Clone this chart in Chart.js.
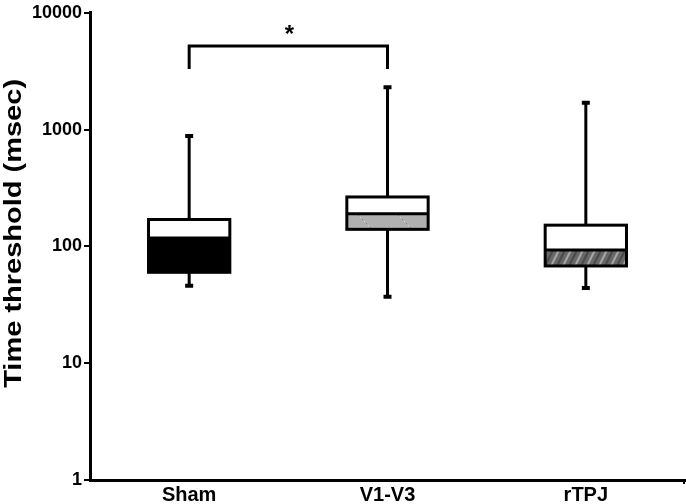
<!DOCTYPE html>
<html><head><meta charset="utf-8">
<script src="https://cdn.jsdelivr.net/npm/chart.js@4"></script>
<style>html,body{margin:0;padding:0;background:#fff}#wrap{width:686px;height:504px}</style>
</head><body><div id="wrap"><canvas id="c"></canvas></div>
<script>
const categories = ['Sham', 'V1-V3', 'rTPJ'];
const whiskerMin = [46, 37, 44];
const q1 = [60, 140, 68];
const median = [118, 190, 93];
const q3 = [170, 265, 152];
const whiskerMax = [880, 2300, 1700];
const yTicks = [1, 10, 100, 1000, 10000];
const yTitle = 'Time threshold (msec)';
const bracketFrom = 0, bracketTo = 1;
const bracketTop = 5200, bracketLegBottom = 3300;
const bracketLabel = '*';
const FONT = '"Liberation Sans", Arial, sans-serif';

function makeStipple() {
  const c = document.createElement('canvas'); c.width = 40; c.height = 40;
  const g = c.getContext('2d');
  g.fillStyle = '#b0b0b0'; g.fillRect(0, 0, 40, 40);
  let s = 7;
  for (let i = 0; i < 600; i++) {
    s = (s * 9301 + 49297) % 233280;
    const x = s % 40; s = (s * 9301 + 49297) % 233280;
    const y = s % 40;
    g.fillStyle = (i % 2) ? '#858585' : '#d6d6d6';
    g.fillRect(x, y, 1, 1);
  }
  return g.createPattern(c, 'repeat');
}
function makeHatch() {
  const c = document.createElement('canvas'); c.width = 24; c.height = 24;
  const g = c.getContext('2d');
  g.fillStyle = '#686868'; g.fillRect(0, 0, 24, 24);
  g.strokeStyle = '#a8a8a8'; g.lineWidth = 2;
  for (let k = -24; k <= 48; k += 12) {
    g.beginPath(); g.moveTo(k, 24); g.lineTo(k + 12, 0); g.stroke();
  }
  g.strokeStyle = '#4a4a4a'; g.lineWidth = 2;
  for (let k = -18; k <= 48; k += 12) {
    g.beginPath(); g.moveTo(k, 24); g.lineTo(k + 12, 0); g.stroke();
  }
  return g.createPattern(c, 'repeat');
}

const boxPlugin = {
  id: 'boxparts',
  beforeDatasetsDraw(chart) {
    const ctx = chart.ctx, x = chart.scales.x, y = chart.scales.y;
    ctx.save();
    ctx.strokeStyle = '#000'; ctx.lineWidth = 3; ctx.lineCap = 'butt';
    categories.forEach((c, i) => {
      const cx = x.getPixelForValue(i);
      const yMax = y.getPixelForValue(whiskerMax[i]), yMin = y.getPixelForValue(whiskerMin[i]);
      ctx.beginPath();
      ctx.moveTo(cx, y.getPixelForValue(q3[i])); ctx.lineTo(cx, yMax);
      ctx.moveTo(cx, y.getPixelForValue(q1[i])); ctx.lineTo(cx, yMin);
      ctx.stroke();
      ctx.lineWidth = 4;
      ctx.beginPath();
      ctx.moveTo(cx - 4, yMax); ctx.lineTo(cx + 4, yMax);
      ctx.moveTo(cx - 4, yMin); ctx.lineTo(cx + 4, yMin);
      ctx.stroke();
      ctx.lineWidth = 3;
    });
    ctx.restore();
  },
  afterDatasetsDraw(chart) {
    const ctx = chart.ctx, x = chart.scales.x, y = chart.scales.y;
    const meta = chart.getDatasetMeta(0);
    ctx.save();
    ctx.strokeStyle = '#000'; ctx.lineWidth = 3;
    meta.data.forEach((bar, i) => {
      const left = bar.x - bar.width / 2, w = bar.width;
      const yt = y.getPixelForValue(q3[i]), yb = y.getPixelForValue(q1[i]), ym = y.getPixelForValue(median[i]);
      ctx.strokeRect(left, yt, w, yb - yt);
      ctx.beginPath(); ctx.moveTo(left, ym); ctx.lineTo(left + w, ym); ctx.stroke();
    });
    // significance bracket
    const x1 = x.getPixelForValue(bracketFrom), x2 = x.getPixelForValue(bracketTo);
    const bt = y.getPixelForValue(bracketTop), bb = y.getPixelForValue(bracketLegBottom);
    ctx.beginPath();
    ctx.moveTo(x1, bb); ctx.lineTo(x1, bt); ctx.lineTo(x2, bt); ctx.lineTo(x2, bb);
    ctx.stroke();
    ctx.fillStyle = '#000';
    ctx.font = 'bold 24px ' + FONT;
    ctx.textAlign = 'center'; ctx.textBaseline = 'middle';
    ctx.fillText(bracketLabel, (x1 + x2) / 2 + 1, bt - 11);
    // y-axis title
    ctx.save();
    ctx.translate(14, (chart.chartArea.top + chart.chartArea.bottom) / 2 - 13);
    ctx.rotate(-Math.PI / 2);
    ctx.scale(1, 0.84);
    ctx.font = 'bold 29px ' + FONT;
    ctx.textAlign = 'center'; ctx.textBaseline = 'middle';
    ctx.fillText(yTitle, 0, 0);
    ctx.restore();
    // small end tick at right of x axis
    ctx.lineWidth = 2;
    ctx.beginPath(); ctx.moveTo(chart.chartArea.right - 1, chart.chartArea.bottom); ctx.lineTo(chart.chartArea.right - 1, chart.chartArea.bottom + 4); ctx.stroke();
    ctx.restore();
  }
};

const lowerFills = ['#000000', makeStipple(), makeHatch()];

new Chart(document.getElementById('c'), {
  type: 'bar',
  data: {
    labels: categories,
    datasets: [
      { label: 'Q1–median', data: categories.map((c, i) => [q1[i], median[i]]), backgroundColor: lowerFills,
        borderWidth: 0, grouped: false, barPercentage: 0.41, categoryPercentage: 1 },
      { label: 'median–Q3', data: categories.map((c, i) => [median[i], q3[i]]), backgroundColor: '#ffffff',
        borderWidth: 0, grouped: false, barPercentage: 0.41, categoryPercentage: 1 }
    ]
  },
  options: {
    responsive: true, maintainAspectRatio: false, animation: false,
    layout: { padding: { top: 6, right: 1, left: 0, bottom: 0 } },
    plugins: { legend: { display: false }, tooltip: { enabled: false } },
    scales: {
      x: {
        grid: { display: false, drawTicks: false },
        border: { display: true, color: '#000', width: 3 },
        ticks: { color: '#000', padding: 3, font: { family: FONT, size: 20, weight: 'bold' } },
        afterFit(s) { s.height = 24; }
      },
      y: {
        type: 'logarithmic', min: 1, max: 10000,
        afterBuildTicks(s) { s.ticks = yTicks.map(v => ({ value: v })); },
        grid: { drawOnChartArea: false, drawTicks: true, tickLength: 6, color: '#000', lineWidth: 2 },
        border: { display: true, color: '#000', width: 3 },
        ticks: { color: '#000', padding: 2, autoSkip: false,
          font: { family: FONT, size: 18, weight: 'bold' },
          callback: v => String(v) },
        title: { display: false, text: yTitle },
        afterFit(s) { s.width = 90; }
      }
    }
  },
  plugins: [boxPlugin]
});
</script></body></html>
